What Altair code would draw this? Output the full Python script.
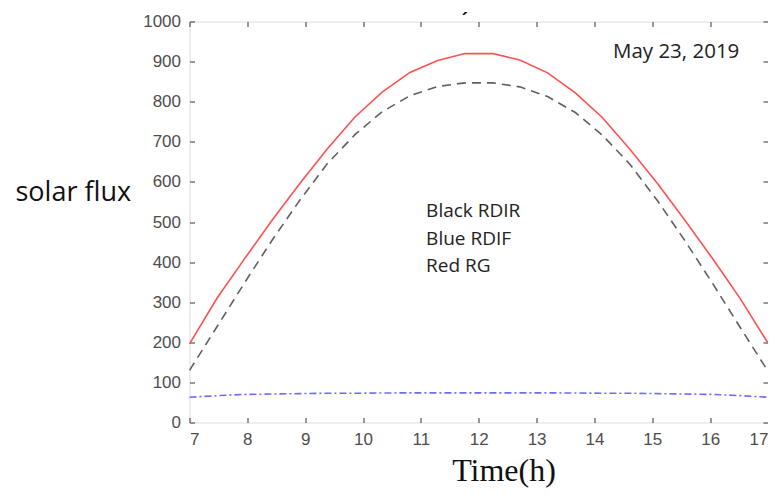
import altair as alt
import pandas as pd

# time samples (h)
times = [7.0, 7.48, 7.95, 8.43, 8.9, 9.38, 9.86, 10.33, 10.81, 11.29, 11.76,
         12.24, 12.71, 13.19, 13.67, 14.14, 14.62, 15.1, 15.57, 16.05, 16.52, 17.0]
# Red RG (global)
rg = [196, 311, 408, 505, 595, 682, 762, 824, 873, 903, 920,
      920, 904, 872, 822, 760, 680, 594, 503, 407, 309, 198]
# Black RDIR (direct)
rdir = [130, 240, 348, 455, 553, 645, 718, 775, 815, 838, 847,
        847, 837, 813, 773, 716, 643, 551, 452, 345, 237, 128]
# Blue RDIF (diffuse)
rdif = [63, 67, 70, 71, 72, 73, 73, 73.5, 74, 74, 74,
        74, 74, 74, 73.5, 73, 73, 72, 71, 70, 67, 63]

x_ticks = list(range(7, 18))
y_ticks = list(range(0, 1001, 100))

legend_lines = ["Black RDIR", "Blue RDIF", "Red RG"]
legend_x = [11.09, 11.09, 11.09]
legend_y = [512, 443, 376]

date_text = ["May 23, 2019"]
date_x = [14.32]
date_y = [909]

df = pd.DataFrame({"time": times, "RG": rg, "RDIR": rdir, "RDIF": rdif})
legend_df = pd.DataFrame({"label": legend_lines, "x": legend_x, "y": legend_y})
date_df = pd.DataFrame({"label": date_text, "x": date_x, "y": date_y})
mark_df = pd.DataFrame({"label": ["\u00b4"], "x": [11.76], "y": [990]})

AX = "#555555"
xscale = alt.Scale(domain=[7, 17], nice=False)
yscale = alt.Scale(domain=[0, 1000], nice=False)

x_bottom = alt.Axis(orient="bottom", values=x_ticks, offset=-5, tickSize=5, domain=False,
                    grid=False, tickColor=AX, tickWidth=1.2, labelPadding=9,
                    labelFont="Liberation Sans", labelFontSize=17, labelColor="#4d4d4d",
                    title="Time(h)", titleFont="Liberation Serif", titleFontSize=32,
                    titleFontWeight="normal", titleColor="#111111", titleX=314, titleY=62.5,
                    titleAlign="center", titleBaseline="alphabetic", format="d")
y_left = alt.Axis(orient="left", values=y_ticks, offset=-5, tickSize=5, domain=False,
                  grid=False, tickColor=AX, tickWidth=1.2, labelPadding=9,
                  labelFont="Liberation Sans", labelFontSize=17, labelColor="#4d4d4d",
                  title="solar flux", titleFont="Open Sans", titleFontSize=27,
                  titleFontWeight="normal", titleColor="#111111", titleAngle=0,
                  titleX=-179.5, titleY=178.5, titleAlign="left", titleBaseline="alphabetic",
                  format="d")
x_top = alt.Axis(orient="top", values=x_ticks, offset=-5, tickSize=5, domain=False,
                 grid=False, tickColor=AX, tickWidth=1.2, labels=False, title=None)
y_right = alt.Axis(orient="right", values=y_ticks, offset=-5, tickSize=5, domain=False,
                   grid=False, tickColor=AX, tickWidth=1.2, labels=False, title=None)

red = alt.Chart(df).mark_line(color="#ff5050", strokeWidth=1.6).encode(
    x=alt.X("time:Q", scale=xscale, axis=x_bottom),
    y=alt.Y("RG:Q", scale=yscale, axis=y_left),
)
black = alt.Chart(df).mark_line(color="#606060", strokeWidth=1.6, strokeDash=[9, 6]).encode(
    x=alt.X("time:Q", scale=xscale, axis=x_top),
    y=alt.Y("RDIR:Q", scale=yscale, axis=y_right),
)
blue = alt.Chart(df).mark_line(color="#6b6bff", strokeWidth=1.6, strokeDash=[7, 3, 2, 3]).encode(
    x=alt.X("time:Q", scale=xscale, axis=None),
    y=alt.Y("RDIF:Q", scale=yscale, axis=None),
)
legend = alt.Chart(legend_df).mark_text(font="Open Sans", fontSize=19, align="left",
                                        baseline="alphabetic", color="#222222").encode(
    x=alt.X("x:Q", scale=xscale, axis=None),
    y=alt.Y("y:Q", scale=yscale, axis=None),
    text="label:N",
)
date = alt.Chart(date_df).mark_text(font="Open Sans", fontSize=20.5, align="left",
                                    baseline="alphabetic", color="#222222").encode(
    x=alt.X("x:Q", scale=xscale, axis=None),
    y=alt.Y("y:Q", scale=yscale, axis=None),
    text="label:N",
)
mark = alt.Chart(mark_df).mark_text(font="Liberation Sans", fontSize=18, fontWeight="bold",
                                    align="center", baseline="alphabetic", color="#000000",
                                    clip=False).encode(
    x=alt.X("x:Q", scale=xscale, axis=None),
    y=alt.Y("y:Q", scale=yscale, axis=None),
    text="label:N",
)

chart = alt.layer(red, black, blue, legend, date, mark).resolve_axis(
    x="independent", y="independent"
).properties(
    width=578.5, height=401,
    autosize=alt.AutoSizeParams(type="none"),
    padding={"left": 181.5, "top": 13.5, "right": 0, "bottom": 65.5},
).configure_view(stroke=AX, strokeWidth=1.3).configure(background="white")

chart.save("out.html", embed_options={"renderer": "svg", "actions": False})
